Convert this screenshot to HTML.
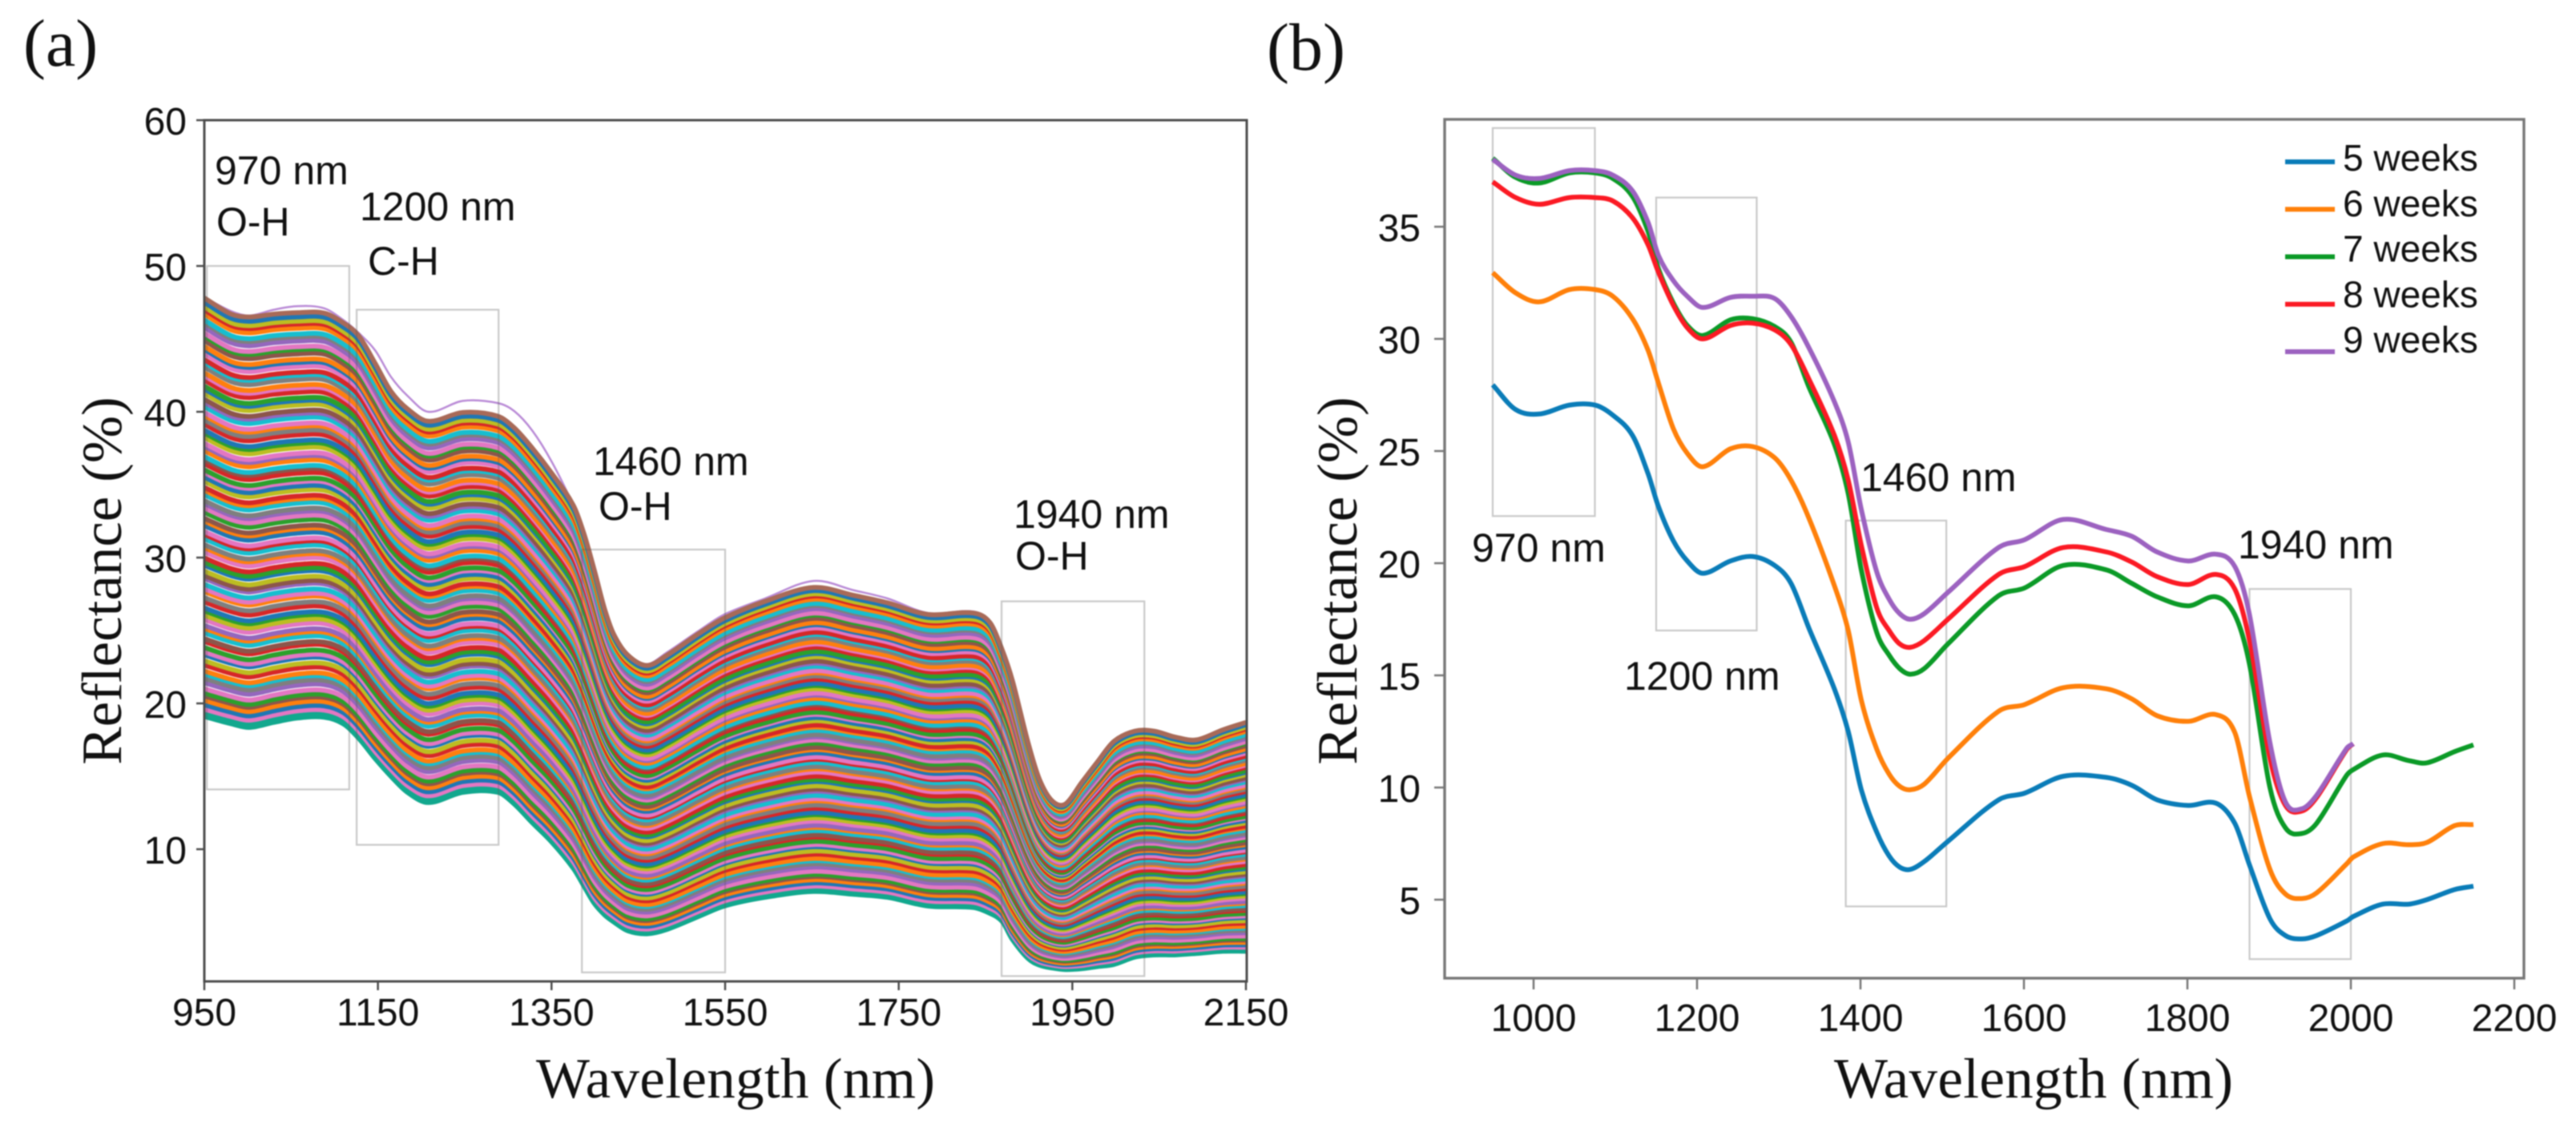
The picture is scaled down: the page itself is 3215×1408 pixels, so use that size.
<!DOCTYPE html>
<html lang="en">
<head>
<meta charset="utf-8">
<title>Reflectance spectra</title>
<style>
html,body{margin:0;padding:0;background:#fff;width:3215px;height:1408px;overflow:hidden}
svg{display:block;filter:blur(0.7px)}
text{fill:#111;font-family:"Liberation Sans",sans-serif}
.serif{font-family:"Liberation Serif",serif}
.tick{font-size:48px}
.note{font-size:50px}
.title{font-size:71px}
.panel{font-size:84px}
.legend{font-size:46px}
</style>
</head>
<body>
<svg id="figure" xmlns="http://www.w3.org/2000/svg" width="3215" height="1408" viewBox="0 0 3215 1408">
  <rect width="3215" height="1408" fill="#fff"/>
  <g id="panel-a"></g>
  <g id="panel-b"></g>
  <text class="serif panel" x="29" y="82">(a)</text>
  <text class="serif panel" x="1581" y="87">(b)</text>
  <text class="serif title" x="918" y="1370" text-anchor="middle" textLength="498">Wavelength (nm)</text>
  <text class="serif title" x="2538" y="1370" text-anchor="middle" textLength="498">Wavelength (nm)</text>
  <text class="serif title" transform="translate(151,725) rotate(-90)" text-anchor="middle">Reflectance (%)</text>
  <text class="serif title" transform="translate(1693,725) rotate(-90)" text-anchor="middle">Reflectance (%)</text>
  <text class="note" x="268" y="230">970 nm</text>
  <text class="note" x="270" y="294">O-H</text>
  <text class="note" x="449" y="275">1200 nm</text>
  <text class="note" x="459" y="343">C-H</text>
  <text class="note" x="740" y="593">1460 nm</text>
  <text class="note" x="747" y="649">O-H</text>
  <text class="note" x="1265" y="659">1940 nm</text>
  <text class="note" x="1267" y="711">O-H</text>
  <text class="note" x="1837" y="701">970 nm</text>
  <text class="note" x="2027" y="861">1200 nm</text>
  <text class="note" x="2322" y="613">1460 nm</text>
  <text class="note" x="2793" y="697">1940 nm</text>
</svg>
<script>
// Panel (a): sampled wavelength grid, band envelopes and the isolated top spectrum
const aWavelengths = [950,981,1002,1030,1058,1088,1110,1128,1147,1165,1184,1208,1248,1288,1307,1328,1350,1375,1387,1399,1411,1422,1438,1460,1483,1520,1549,1596,1652,1699,1737,1784,1836,1855,1869,1881,1899,1912,1927,1942,1961,1979,1998,2022,2044,2068,2093,2124,2150];
const aUpper = [47.8,46.7,46.5,46.7,46.8,46.77,46.1,45.2,43.3,41.4,40.2,39.35,39.95,39.7,38.9,37.5,35.8,33.6,31.7,29.2,26.5,24.7,23.3,22.6,23.3,24.8,25.85,27.0,27.95,27.4,26.9,26.1,26.2,25.55,23.7,21.55,17.3,14.8,13.3,13.1,14.6,16.0,17.4,18.1,18.1,17.7,17.5,18.2,18.7];
const aLower = [19.1,18.6,18.35,18.7,19.0,19.05,18.6,17.6,16.2,15.0,13.9,13.2,13.9,13.9,13.1,11.8,10.5,8.7,7.5,6.3,5.5,5.0,4.4,4.2,4.5,5.4,6.1,6.7,7.1,6.9,6.7,6.1,6.0,5.6,5.05,3.8,2.5,2.05,1.85,1.75,1.8,1.95,2.1,2.6,2.75,2.75,2.85,3.0,3.0];
const aOutline = [47.85,46.9,46.6,47.0,47.25,47.1,46.3,45.4,44.2,42.4,41.1,40.0,40.75,40.6,40.05,38.7,36.6,33.6,31.8,29.4,26.7,24.9,23.4,22.7,23.5,25.0,26.1,27.2,28.4,27.75,27.2,26.2,26.3,25.6,23.75,21.6,17.35,14.85,13.35,13.15,14.65,16.05,17.45,18.15,18.15,17.75,17.55,18.25,18.75];
// Each sample's reflectance at 950 nm, which places it between the envelopes
const aSampleLevels = [19.1,19.4,19.6,19.9,20.2,20.5,20.7,21.0,21.4,21.7,22.0,22.2,22.6,22.9,23.3,23.5,23.8,24.2,24.4,24.8,25.1,25.3,25.7,26.0,26.3,26.5,26.9,27.2,27.6,27.8,28.1,28.5,28.7,29.0,29.4,29.6,29.9,30.3,30.6,30.8,31.2,31.5,31.7,32.1,32.4,32.6,33.0,33.3,33.6,33.8,34.2,34.5,34.7,35.1,35.4,35.7,35.9,36.3,36.6,36.8,37.2,37.5,37.7,38.1,38.4,38.6,39.0,39.3,39.6,39.8,40.2,40.5,40.7,41.1,41.4,41.6,42.0,42.3,42.5,42.9,43.2,43.4,43.8,44.1,44.3,44.7,45.0,45.2,45.6,45.9,46.1,46.5,46.8,47.0,47.3,47.6];
const aXTicks = [950,1150,1350,1550,1750,1950,2150];
const aYTicks = [10,20,30,40,50,60];
const aBoxes = [[953,1117,14.1,50],[1125.5,1289,10.3,47],[1385,1550,1.55,30.55],[1868.5,2033,1.3,27]];

// Panel (b): mean spectra by age
const bWavelengths = [950,978,1007,1044,1075,1097,1121,1140,1153,1171,1188,1207,1241,1268,1295,1315,1337,1368,1385,1401,1420,1435,1448,1461,1478,1507,1569,1601,1648,1701,1732,1763,1801,1835,1858,1876,1901,1920,1940,1958,1995,2003,2039,2071,2093,2127,2150];
const weeks5 = [27.95,26.85,26.65,27.05,27.05,26.6,25.7,24.0,22.5,21.0,20.1,19.55,20.1,20.3,19.9,19.1,17.1,14.4,12.5,9.9,8.0,6.95,6.45,6.35,6.7,7.6,9.45,9.75,10.5,10.45,10.1,9.45,9.2,9.3,8.4,6.55,4.15,3.4,3.25,3.4,4.05,4.25,4.8,4.8,5.0,5.45,5.6];
const weeks6 = [32.95,32.05,31.65,32.2,32.2,31.9,30.9,29.5,28.0,26.0,24.9,24.3,25.1,25.2,24.7,23.7,22.0,19.0,17.0,13.9,11.7,10.6,10.05,9.9,10.15,11.3,13.4,13.7,14.45,14.4,13.95,13.2,12.95,13.25,12.45,9.6,6.35,5.25,5.05,5.3,6.6,6.9,7.5,7.45,7.55,8.3,8.35];
const weeks7 = [38.05,37.2,36.95,37.4,37.4,37.15,36.35,34.8,33.1,31.6,30.6,30.15,30.85,30.9,30.55,29.85,27.85,25.3,23.1,19.7,16.9,15.9,15.3,15.05,15.3,16.4,18.55,18.9,19.9,19.7,19.1,18.5,18.1,18.5,17.7,15.5,10.0,8.2,7.95,8.4,10.55,10.8,11.45,11.2,11.1,11.6,11.9];
const weeks8 = [37.0,36.3,36.0,36.3,36.3,36.15,35.4,34.2,32.95,31.5,30.5,30.0,30.6,30.7,30.4,29.75,28.2,25.7,23.7,20.8,18.0,17.0,16.4,16.25,16.55,17.5,19.5,19.85,20.7,20.5,20.05,19.4,19.05,19.5,18.85,16.55,11.3,9.2,8.95,9.55,11.7,11.95];
const weeks9 = [38.0,37.3,37.15,37.5,37.5,37.3,36.6,35.2,33.7,32.6,31.9,31.4,31.85,31.9,31.8,31.0,29.6,27.2,25.4,22.4,19.6,18.4,17.75,17.5,17.75,18.7,20.7,21.05,21.95,21.5,21.2,20.5,20.1,20.4,19.85,17.7,12.0,9.35,9.05,9.65,11.75,11.95];
const bSeriesNames = ['5 weeks','6 weeks','7 weeks','8 weeks','9 weeks'];
const bXTicks = [1000,1200,1400,1600,1800,2000,2200];
const bYTicks = [5,10,15,20,25,30,35];
const bBoxes = [[950,1075,22.1,39.4],[1150,1273,17,36.3],[1382,1505,4.7,21.9],[1876,2000,2.35,18.85]];

const NS = 'http://www.w3.org/2000/svg';
const tab10 = ['#1f77b4','#ff7f0e','#2ca02c','#d62728','#9467bd','#8c564b','#e377c2','#7f7f7f','#bcbd22','#17becf'];
const colourOrder = [9,3,6,0,1,5,2,6,4,7,9,1,3,8,0,6,2,3,5,9,1,4,6,8,2,0,3,7,1,6,9,4,5,8,0,2,3,6,1,7];
const bColors = ['#0a7cb8','#ff800a','#0b9a27','#fb1a24','#9c62c0'];

function el(parent, tag, attrs, text) {
  const node = document.createElementNS(NS, tag);
  for (const k in attrs) node.setAttribute(k, attrs[k]);
  if (text !== undefined) node.textContent = text;
  parent.appendChild(node);
  return node;
}
function linear(d0, d1, r0, r1) {
  return v => r0 + (v - d0) * (r1 - r0) / (d1 - d0);
}
// Cubic Hermite through points with non-uniform x spacing
function smoothPath(pts) {
  const n = pts.length;
  const slope = i => {
    const a = pts[Math.max(i - 1, 0)], b = pts[Math.min(i + 1, n - 1)];
    return (b[1] - a[1]) / (b[0] - a[0]);
  };
  let d = 'M' + pts[0][0].toFixed(1) + ' ' + pts[0][1].toFixed(1);
  for (let i = 0; i < n - 1; i++) {
    const p1 = pts[i], p2 = pts[i + 1], dx = (p2[0] - p1[0]) / 3;
    d += 'C' + (p1[0] + dx).toFixed(1) + ' ' + (p1[1] + slope(i) * dx).toFixed(1) + ' ' + (p2[0] - dx).toFixed(1) + ' ' + (p2[1] - slope(i + 1) * dx).toFixed(1) + ' ' + p2[0].toFixed(1) + ' ' + p2[1].toFixed(1);
  }
  return d;
}

/* ---------- Panel (a) ---------- */
(function () {
  const g = document.getElementById('panel-a');
  const L = 255, R = 1556, T = 150, B = 1225;
  const x = linear(950, 2150, 255, 1555);
  const y = linear(60, 0, 150, 1242);
  const clip = el(g, 'clipPath', { id: 'a-clip' });
  el(clip, 'rect', { x: L, y: T, width: R - L, height: B - T });
  const curves = el(g, 'g', { 'clip-path': 'url(#a-clip)', fill: 'none', 'stroke-linejoin': 'round' });
  
  
  const outline = el(curves, 'path', { d: smoothPath(aWavelengths.map((w, i) => [x(w), y(aOutline[i])])), stroke: '#b98ad6', 'stroke-width': 2.5 });
  
  
  const lastSample = aSampleLevels.length - 1;
  const top0 = aSampleLevels[lastSample], low0 = aSampleLevels[0];
  aSampleLevels.forEach((level, i) => {
    const f = (level - low0) / (top0 - low0);
    const pts = aWavelengths.map((w, k) => [x(w), y(aLower[k] + f * (aUpper[k] - aLower[k]))]);
    const colour = i < 2 ? '#12a88e' : i === lastSample ? '#a86a58' : tab10[colourOrder[i % colourOrder.length]];
    const path = el(curves, 'path', { d: smoothPath(pts), stroke: colour, 'stroke-width': 6 });
    
    
  });

  aBoxes.forEach(b => {
    const box = el(g, 'rect', { x: x(b[0]), y: y(b[3]), width: x(b[1]) - x(b[0]), height: y(b[2]) - y(b[3]), fill: 'none', stroke: 'rgba(90,90,90,.33)', 'stroke-width': 2.2 });
    
    
  });
  const frame = el(g, 'rect', { x: L, y: T, width: R - L, height: B - T, fill: 'none', stroke: '#4d4d4d', 'stroke-width': 3 });
  
  
  aXTicks.forEach(t => {
    const tick = el(g, 'line', { x1: x(t), x2: x(t), y1: B, y2: B + 11, stroke: '#4d4d4d', 'stroke-width': 2.5 });
    
    
    const label = el(g, 'text', { x: x(t), y: 1280, 'text-anchor': 'middle', class: 'tick' }, t);
    
    
  });
  aYTicks.forEach(t => {
    const tick = el(g, 'line', { x1: L - 10, x2: L, y1: y(t), y2: y(t), stroke: '#4d4d4d', 'stroke-width': 2.5 });
    
    
    const label = el(g, 'text', { x: 233, y: y(t) + 18, 'text-anchor': 'end', class: 'tick' }, t);
    
    
  });
})();

/* ---------- Panel (b) ---------- */
(function () {
  const g = document.getElementById('panel-b');
  const L = 1803, R = 3150, T = 149, B = 1221;
  const x = linear(1000, 2000, 1914, 2934);
  const y = linear(35, 5, 283, 1123);
  bBoxes.forEach(b => {
    const box = el(g, 'rect', { x: x(b[0]), y: y(b[3]), width: x(b[1]) - x(b[0]), height: y(b[2]) - y(b[3]), fill: 'none', stroke: 'rgba(90,90,90,.33)', 'stroke-width': 2.2 });
    
    
  });
  [weeks5, weeks6, weeks7, weeks8, weeks9].forEach((vals, s) => {
    const pts = vals.map((v, i) => [x(bWavelengths[i]), y(v)]);
    const line = el(g, 'path', { d: smoothPath(pts), fill: 'none', stroke: bColors[s], 'stroke-width': 6, 'stroke-linejoin': 'round' });
    
    
  });
  const frame = el(g, 'rect', { x: L, y: T, width: R - L, height: B - T, fill: 'none', stroke: '#777', 'stroke-width': 3.4 });
  
  
  bXTicks.forEach(t => {
    const tick = el(g, 'line', { x1: x(t), x2: x(t), y1: B, y2: B + 14, stroke: '#777', 'stroke-width': 2.5 });
    
    
    const label = el(g, 'text', { x: x(t), y: 1287, 'text-anchor': 'middle', class: 'tick' }, t);
    
    
  });
  bYTicks.forEach(t => {
    const tick = el(g, 'line', { x1: L - 13, x2: L, y1: y(t), y2: y(t), stroke: '#777', 'stroke-width': 2.5 });
    
    
    const label = el(g, 'text', { x: 1773, y: y(t) + 18, 'text-anchor': 'end', class: 'tick' }, t);
    
    
  });
  const legend = el(g, 'g', {});
  
  
  bSeriesNames.forEach((name, s) => {
    const swatch = el(legend, 'line', { x1: 2852, x2: 2914, y1: 202 + s * 59.25, y2: 202 + s * 59.25, stroke: bColors[s], 'stroke-width': 6 });
    
    
    const label = el(legend, 'text', { x: 2924, y: 213 + s * 56.75, class: 'legend' }, name);
    
    
  });
})();
</script>
</body>
</html>
